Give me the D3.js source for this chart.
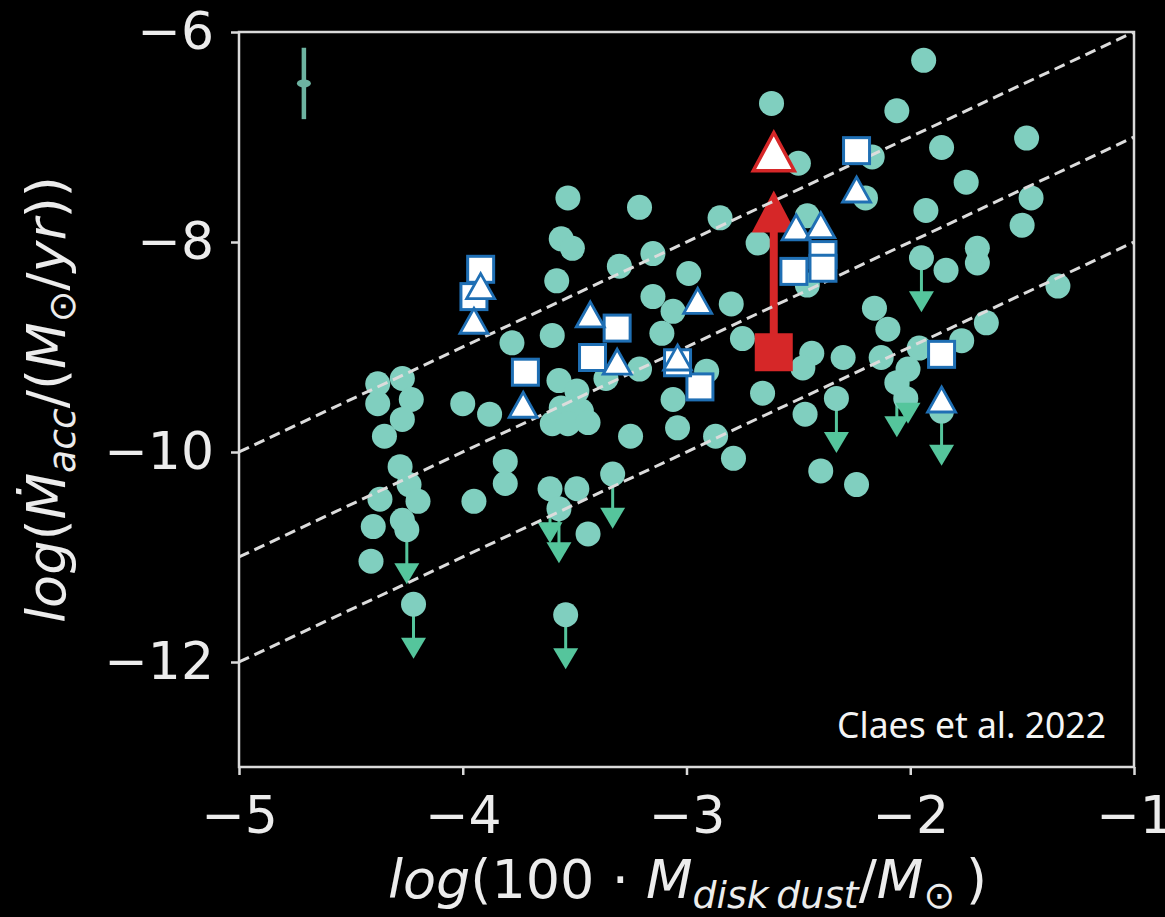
<!DOCTYPE html>
<html>
<head>
<meta charset="utf-8">
<script src="https://cdn.jsdelivr.net/npm/d3@7"></script>
<style>
  html, body { margin: 0; padding: 0; background: #000; }
  svg { display: block; }
</style>
</head>
<body>
<svg id="chart" width="1165" height="917"></svg>
<script>
// ---- axis ranges and ticks ----
const xDomain = [-5, -1];
const yDomain = [-13, -6];
const xTickValues = [-5, -4, -3, -2, -1];
const yTickValues = [-6, -8, -10, -12];

// constant accretion-to-disk-mass ratios: log Macc = log(100 Mdust) + offset
const relationOffsets = [-5, -6, -7];

// detections (filled circles)
const detX = [-1.94, -2.62, -2.06, -1.48, -1.86, -2.17, -2.50, -1.75, -2.20, -1.46,
              -3.53, -3.21, -2.85, -1.93, -2.46, -1.50, -3.56, -3.51, -2.68, -3.15,
              -1.70, -1.70, -1.84, -3.30, -3.58, -2.99, -2.46, -1.34, -3.15, -3.06,
              -2.80, -2.16, -2.10, -3.78, -3.60, -3.11, -2.75, -2.44, -2.48, -2.30,
              -2.13, -1.66, -1.77, -1.96, -2.02, -3.57, -3.49, -3.56, -3.47, -3.60,
              -3.53, -3.44, -3.36, -3.21, -2.91, -2.66, -3.06, -3.04, -3.25, -2.87,
              -2.79, -2.47, -2.40, -2.24, -3.44, -3.81, -3.81, -3.49, -3.95, -4.00,
              -3.88, -4.38, -4.27, -4.38, -4.23, -4.27, -4.35, -4.28, -4.24, -4.20,
              -4.37, -4.40, -4.27, -4.41];
const detY = [-6.27, -6.68, -6.75, -7.01, -7.10, -7.19, -7.25, -7.43, -7.58, -7.58,
              -7.58, -7.67, -7.77, -7.70, -7.75, -7.84, -7.97, -8.06, -8.01, -8.11,
              -8.06, -8.20, -8.27, -8.23, -8.37, -8.30, -8.41, -8.42, -8.52, -8.66,
              -8.59, -8.63, -8.83, -8.96, -8.89, -8.87, -8.92, -9.06, -9.20, -9.10,
              -9.10, -8.77, -8.94, -9.01, -9.49, -9.32, -9.42, -9.58, -9.61, -9.73,
              -9.73, -9.72, -9.30, -9.21, -9.23, -9.44, -9.50, -9.77, -9.85, -9.85,
              -10.06, -9.64, -10.18, -10.31, -10.78, -10.09, -10.30, -10.35, -10.47, -9.54,
              -9.64, -9.35, -9.30, -9.54, -9.50, -9.69, -9.85, -10.14, -10.31, -10.47,
              -10.45, -10.71, -10.65, -11.04];

// upper limits (circles with downward arrows)
const limX = [-1.95, -2.01, -2.06, -2.33, -3.33, -3.54, -3.61, -3.57, -4.25, -4.22, -1.86];
const limY = [-8.15, -9.21, -9.34, -9.49, -10.21, -11.55, -10.35, -10.54, -10.74, -11.45, -9.61];
const limitLength = 0.52;

// open squares
const sqX = [-3.92, -3.95, -3.72, -3.42, -3.31, -2.94, -3.04, -2.52, -2.39, -2.39, -2.24, -1.86];
const sqY = [-8.26, -8.52, -9.24, -9.10, -8.82, -9.38, -9.15, -8.28, -8.12, -8.25, -7.13, -9.07];

// open triangles
const triX = [-3.92, -3.95, -3.73, -3.43, -3.31, -3.04, -2.95, -2.51, -2.40, -2.24, -1.86];
const triY = [-8.42, -8.75, -9.55, -8.69, -9.14, -9.10, -8.56, -7.86, -7.84, -7.50, -9.50];

// highlighted source: two estimates joined by an arrow
const redX = -2.61;
const redSquareY = -9.05;
const redArrowY = -7.51;
const redTriangleY = -7.14;

// typical uncertainty
const errX = -4.71, errY = -6.49, errSize = 0.34;

// ---- drawing ----
const W = 1165, H = 917;
const x = d3.scaleLinear().domain(xDomain).range([239, 1134]);
const y = d3.scaleLinear().domain(yDomain).range([767, 32]);

const svg = d3.select('#chart');
svg.append('rect').attr('width', W).attr('height', H).attr('fill', '#000');

svg.append('defs').append('clipPath').attr('id', 'plotclip')
  .append('rect').attr('x', x(xDomain[0])).attr('y', y(yDomain[1]))
  .attr('width', x(xDomain[1]) - x(xDomain[0])).attr('height', y(yDomain[0]) - y(yDomain[1]));

const plot = svg.append('g').attr('clip-path', 'url(#plotclip)');

const circleFill = '#80cfbf';
const limitColor = '#55c59c';
const blue = '#1f6fb4';
const red = '#d62728';

const dets = detX.map((v, i) => ({ x: v, y: detY[i] }));
const lims = limX.map((v, i) => ({ x: v, y: limY[i] }));

// arrow shafts of upper limits
plot.append('g').selectAll('line').data(lims).join('line')
  .attr('x1', d => x(d.x)).attr('x2', d => x(d.x))
  .attr('y1', d => y(d.y)).attr('y2', d => y(d.y - limitLength) - 12)
  .attr('stroke', limitColor).attr('stroke-width', 3);

// circles
plot.append('g').selectAll('circle').data(dets.concat(lims)).join('circle')
  .attr('cx', d => x(d.x)).attr('cy', d => y(d.y)).attr('r', 12.5)
  .attr('fill', circleFill);

// arrow heads of upper limits
plot.append('g').selectAll('path').data(lims).join('path')
  .attr('d', d => {
    const cx = x(d.x), tip = y(d.y - limitLength);
    return `M${cx - 12.5},${tip - 21}L${cx + 12.5},${tip - 21}L${cx},${tip}Z`;
  })
  .attr('fill', limitColor);

// red arrow and filled square
const rx = x(redX);
const headTip = y(redArrowY);
plot.append('line')
  .attr('x1', rx).attr('x2', rx)
  .attr('y1', y(redSquareY)).attr('y2', headTip + 38)
  .attr('stroke', red).attr('stroke-width', 8);
plot.append('path')
  .attr('d', `M${rx - 22},${headTip + 42}L${rx + 22},${headTip + 42}L${rx},${headTip}Z`)
  .attr('fill', red);
plot.append('rect')
  .attr('x', rx - 19).attr('y', y(redSquareY) - 19).attr('width', 38).attr('height', 38)
  .attr('fill', red);

// constant-ratio lines
plot.append('g').selectAll('line').data(relationOffsets).join('line')
  .attr('x1', x(xDomain[0])).attr('y1', c => y(xDomain[0] + c))
  .attr('x2', x(xDomain[1])).attr('y2', c => y(xDomain[1] + c))
  .attr('stroke', '#dcdcdc').attr('stroke-width', 3)
  .attr('stroke-dasharray', '11 6');

// open squares
const sqs = sqX.map((v, i) => ({ x: v, y: sqY[i] }));
plot.append('g').selectAll('rect').data(sqs).join('rect')
  .attr('x', d => x(d.x) - 13).attr('y', d => y(d.y) - 13)
  .attr('width', 26).attr('height', 26)
  .attr('fill', '#fff').attr('stroke', blue).attr('stroke-width', 3);

// open triangles
const tris = triX.map((v, i) => ({ x: v, y: triY[i] }));
plot.append('g').selectAll('path').data(tris).join('path')
  .attr('d', d => {
    const cx = x(d.x), cy = y(d.y);
    return `M${cx},${cy - 12.5}L${cx + 14},${cy + 12.5}L${cx - 14},${cy + 12.5}Z`;
  })
  .attr('fill', '#fff').attr('stroke', blue).attr('stroke-width', 2.8)
  .attr('stroke-linejoin', 'miter');

// red open triangle
plot.append('path')
  .attr('d', () => {
    const cy = y(redTriangleY);
    return `M${rx},${cy - 19}L${rx + 20.5},${cy + 19}L${rx - 20.5},${cy + 19}Z`;
  })
  .attr('fill', '#fff').attr('stroke', red).attr('stroke-width', 3.5);

// typical error bar
const errColor = '#6db3a1';
plot.append('line')
  .attr('x1', x(errX)).attr('x2', x(errX))
  .attr('y1', y(errY + errSize)).attr('y2', y(errY - errSize))
  .attr('stroke', errColor).attr('stroke-width', 4.5);
plot.append('ellipse')
  .attr('cx', x(errX)).attr('cy', y(errY)).attr('rx', 7).attr('ry', 4)
  .attr('fill', errColor);

// ---- axes ----
const axisColor = '#dadada';
const textColor = '#ececec';
const tickFont = 52;
const intFormat = d3.format('d');

const yAxis = svg.append('g').attr('transform', `translate(${x(xDomain[0])},0)`)
  .call(d3.axisLeft(y).tickValues(yTickValues).tickFormat(intFormat).tickSize(8).tickPadding(17));
const xAxis = svg.append('g').attr('transform', `translate(0,${y(yDomain[0])})`)
  .call(d3.axisBottom(x).tickValues(xTickValues).tickFormat(intFormat).tickSize(8).tickPadding(21));

[xAxis, yAxis].forEach(a => {
  a.select('.domain').remove();
  a.selectAll('.tick line').attr('stroke', axisColor).attr('stroke-width', 2.5);
  a.selectAll('.tick text')
    .attr('fill', textColor)
    .style('font-family', '"DejaVu Sans", sans-serif')
    .style('font-size', tickFont + 'px');
});

// frame
svg.append('rect')
  .attr('x', x(xDomain[0])).attr('y', y(yDomain[1]))
  .attr('width', x(xDomain[1]) - x(xDomain[0]))
  .attr('height', y(yDomain[0]) - y(yDomain[1]))
  .attr('fill', 'none').attr('stroke', axisColor).attr('stroke-width', 2.5);

// ---- axis titles (mathtext style) ----
function addParts(textSel, parts, size) {
  parts.forEach(p => {
    textSel.append('tspan')
      .text(p.t)
      .attr('dy', p.dy || 0)
      .style('font-style', p.it ? 'italic' : 'normal')
      .style('font-size', (p.sub ? size * 0.7 : size) + 'px');
  });
}

const labelFont = 54;
const xTitle = svg.append('text')
  .attr('x', (x(xDomain[0]) + x(xDomain[1])) / 2 + 1)
  .attr('y', 898)
  .attr('text-anchor', 'middle')
  .attr('fill', textColor)
  .style('font-family', '"DejaVu Sans", sans-serif');
addParts(xTitle, [
  { t: 'log', it: true },
  { t: '(100 \u00b7 ' },
  { t: 'M', it: true },
  { t: 'disk\u2009dust', it: true, sub: true, dy: 10 },
  { t: '/', dy: -10 },
  { t: 'M', it: true },
  { t: '\u2299', sub: true, dy: 10 },
  { t: '\u2009)', dy: -10 }
], labelFont);

const yTitle = svg.append('text')
  .attr('transform', `translate(65,${(y(yDomain[0]) + y(yDomain[1])) / 2}) rotate(-90)`)
  .attr('text-anchor', 'middle')
  .attr('fill', textColor)
  .style('font-family', '"DejaVu Sans", sans-serif');
addParts(yTitle, [
  { t: 'log', it: true },
  { t: '(' },
  { t: '\u1E40', it: true },
  { t: 'acc', it: true, sub: true, dy: 10 },
  { t: '/(', dy: -10 },
  { t: 'M', it: true },
  { t: '\u2299', sub: true, dy: 10 },
  { t: '/', dy: -10 },
  { t: 'yr', it: true },
  { t: '))' }
], labelFont);

// reference note
svg.append('text')
  .attr('x', 1106).attr('y', 738)
  .attr('text-anchor', 'end')
  .attr('fill', '#f4f4f4')
  .style('font-family', '"Noto Sans", sans-serif')
  .style('font-size', '35.5px')
  .text('Claes et al. 2022');
</script>
</body>
</html>
